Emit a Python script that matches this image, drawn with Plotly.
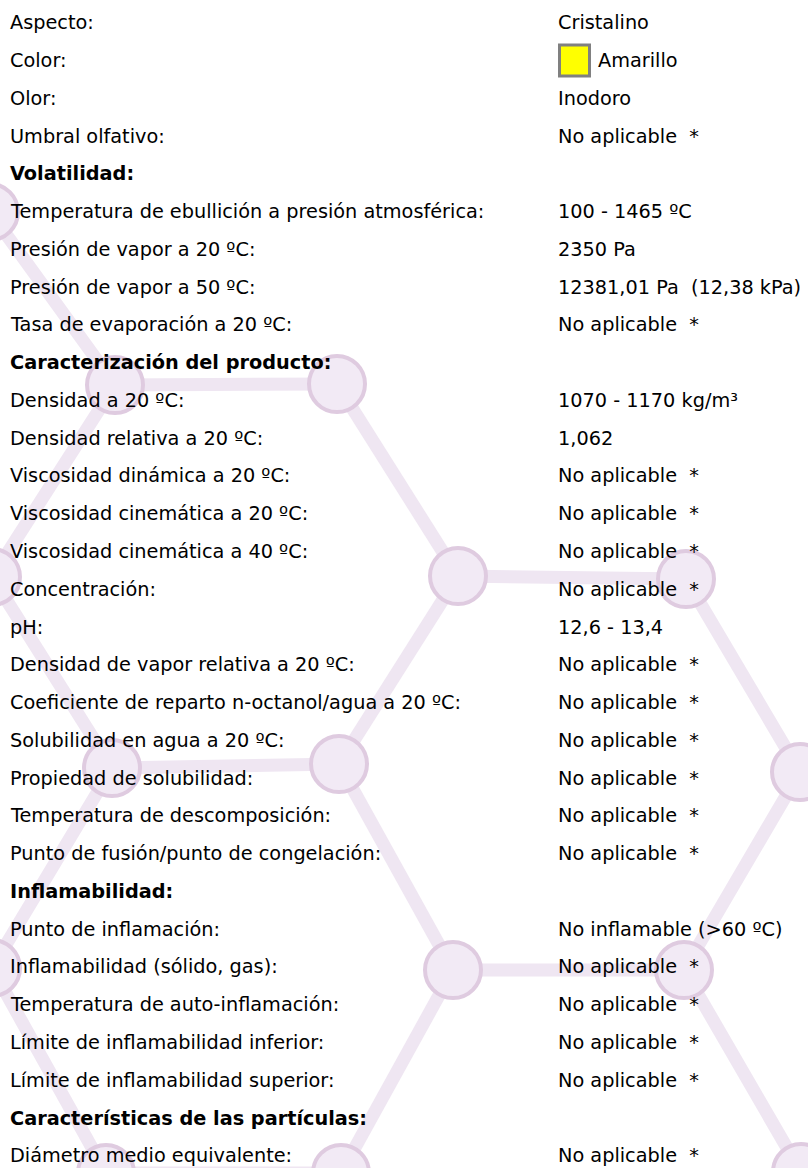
import plotly.graph_objects as go

# ---- data ----
labels = [
    "Aspecto:", "Color:", "Olor:", "Umbral olfativo:",
    "Volatilidad:",
    "Temperatura de ebullición a presión atmosférica:",
    "Presión de vapor a 20 ºC:", "Presión de vapor a 50 ºC:",
    "Tasa de evaporación a 20 ºC:",
    "Caracterización del producto:",
    "Densidad a 20 ºC:", "Densidad relativa a 20 ºC:",
    "Viscosidad dinámica a 20 ºC:", "Viscosidad cinemática a 20 ºC:",
    "Viscosidad cinemática a 40 ºC:", "Concentración:", "pH:",
    "Densidad de vapor relativa a 20 ºC:",
    "Coeficiente de reparto n-octanol/agua a 20 ºC:",
    "Solubilidad en agua a 20 ºC:", "Propiedad de solubilidad:",
    "Temperatura de descomposición:",
    "Punto de fusión/punto de congelación:",
    "Inflamabilidad:",
    "Punto de inflamación:", "Inflamabilidad (sólido, gas):",
    "Temperatura de auto-inflamación:",
    "Límite de inflamabilidad inferior:",
    "Límite de inflamabilidad superior:",
    "Características de las partículas:",
    "Diámetro medio equivalente:",
]
NA = "No aplicable\u00a0 *"
values = [
    "Cristalino", "Amarillo", "Inodoro", NA,
    "",
    "100 - 1465 ºC", "2350 Pa", "12381,01 Pa\u00a0 (12,38 kPa)", NA,
    "",
    "1070 - 1170 kg/m³", "1,062", NA, NA, NA, NA, "12,6 - 13,4",
    NA, NA, NA, NA, NA, NA,
    "",
    "No inflamable (>60 ºC)", NA, NA, NA, NA,
    "",
    NA,
]
headers = ["Volatilidad:", "Caracterización del producto:",
           "Inflamabilidad:", "Características de las partículas:"]
swatch_row = "Color:"
swatch_color = "#ffff00"

# background molecule (honeycomb watermark), pixel coordinates
node_x = [-10, 115, 337, -8, 458, 686, 112, 339, 800, -8, 453, 684, 106, 341, 801]
node_y = [212, 385, 384, 577, 576, 579, 768, 764, 772, 968, 970, 970, 1173, 1173, 1172]
edges = [(0, 1), (1, 2), (2, 4), (1, 3), (4, 5), (5, 8), (4, 7), (7, 6),
         (3, 6), (7, 10), (10, 11), (11, 8), (11, 14), (10, 13), (6, 9),
         (9, 12), (12, 13)]

W, H = 808, 1168
FONT = "DejaVu Sans"
FS = 19.3
ROW0 = 22.7
PITCH = 37.77

fig = go.Figure()

ex, ey = [], []
for a, b in edges:
    ex += [node_x[a], node_x[b], None]
    ey += [node_y[a], node_y[b], None]
fig.add_trace(go.Scatter(x=ex, y=ey, mode="lines",
                         line=dict(color="#efe6f2", width=13),
                         hoverinfo="skip"))
fig.add_trace(go.Scatter(x=node_x, y=node_y, mode="markers",
                         marker=dict(size=56, color="#f2eaf5",
                                     line=dict(color="#dfcbe0", width=4)),
                         hoverinfo="skip"))

annotations = []
shapes = []
for i, (lab, val) in enumerate(zip(labels, values)):
    y = ROW0 + i * PITCH
    txt = f"<b>{lab}</b>" if lab in headers else lab
    annotations.append(dict(x=8, y=y, xref="x", yref="y", text=txt,
                            showarrow=False, xanchor="left", yanchor="middle",
                            font=dict(family=FONT, size=FS, color="#000000")))
    if val:
        vx = 556
        if lab == swatch_row:
            shapes.append(dict(type="rect", xref="x", yref="y",
                               x0=559.5, x1=589.5, y0=y - 15.5, y1=y + 15.5,
                               fillcolor=swatch_color,
                               line=dict(color="#808080", width=3)))
            vx = 596
        annotations.append(dict(x=vx, y=y, xref="x", yref="y", text=val,
                                showarrow=False, xanchor="left",
                                yanchor="middle",
                                font=dict(family=FONT, size=FS,
                                          color="#000000")))

fig.update_layout(
    width=W, height=H,
    margin=dict(l=0, r=0, t=0, b=0),
    paper_bgcolor="white", plot_bgcolor="white",
    showlegend=False,
    xaxis=dict(range=[0, W], visible=False, fixedrange=True),
    yaxis=dict(range=[H, 0], visible=False, fixedrange=True),
    annotations=annotations, shapes=shapes,
)

fig.write_html("out.html", config={"displayModeBar": False},
               post_script="document.body.style.margin='0';")
